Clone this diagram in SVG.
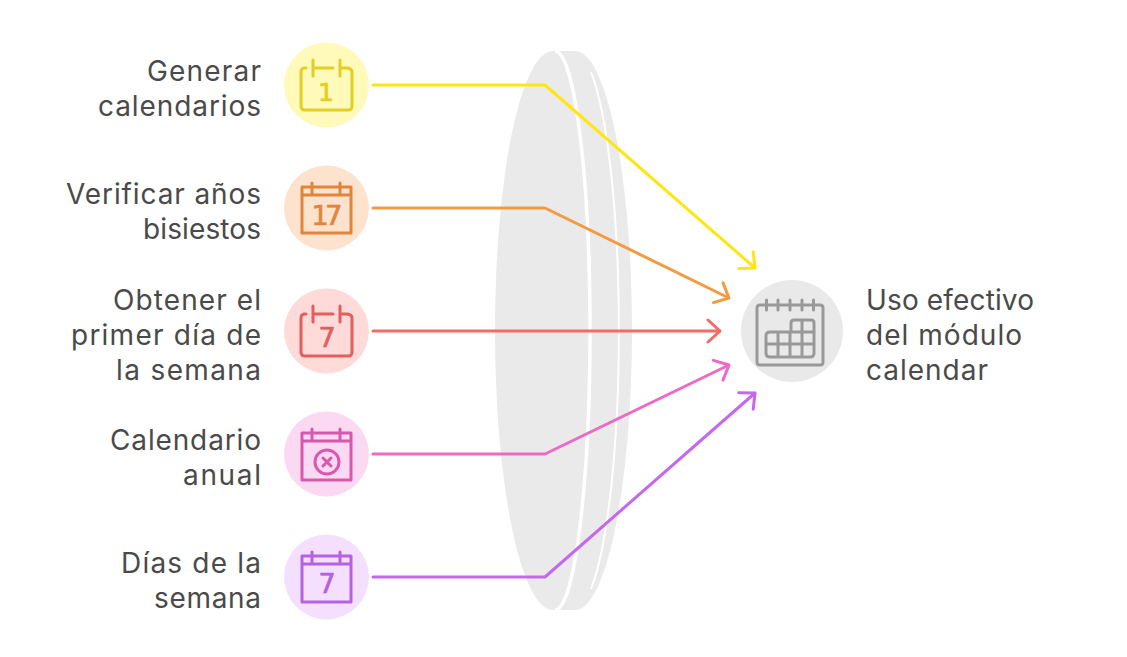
<svg xmlns="http://www.w3.org/2000/svg" width="1127" height="657" viewBox="0 0 1127 657">
<style>
.l{font-family:"Inter","Liberation Sans",sans-serif;font-size:28px;fill:#4a4a4a;text-anchor:end}
.r{font-family:"Inter","Liberation Sans",sans-serif;font-size:28px;fill:#4a4a4a;text-anchor:start}
.i{fill:none;stroke-width:3;stroke-linecap:round;stroke-linejoin:round}
.n{font-family:"DejaVu Sans","Liberation Sans",sans-serif;font-size:27px;stroke-width:.7;text-anchor:middle}
.c{fill:none;stroke-width:3;stroke-linejoin:round;stroke-linecap:round}
</style>
<defs>
<marker id="a1" viewBox="0 0 16 28" refX="15" refY="14" markerWidth="16" markerHeight="28" markerUnits="userSpaceOnUse" orient="auto"><path d="M3 3L15 14L3 25" fill="none" stroke="#ffe612" stroke-width="3" stroke-linecap="round" stroke-linejoin="round"/></marker>
<marker id="a2" viewBox="0 0 16 28" refX="15" refY="14" markerWidth="16" markerHeight="28" markerUnits="userSpaceOnUse" orient="auto"><path d="M3 3L15 14L3 25" fill="none" stroke="#f49b42" stroke-width="3" stroke-linecap="round" stroke-linejoin="round"/></marker>
<marker id="a3" viewBox="0 0 16 28" refX="15" refY="14" markerWidth="16" markerHeight="28" markerUnits="userSpaceOnUse" orient="auto"><path d="M3 3L15 14L3 25" fill="none" stroke="#f46a66" stroke-width="3" stroke-linecap="round" stroke-linejoin="round"/></marker>
<marker id="a4" viewBox="0 0 16 28" refX="15" refY="14" markerWidth="16" markerHeight="28" markerUnits="userSpaceOnUse" orient="auto"><path d="M3 3L15 14L3 25" fill="none" stroke="#ee68c6" stroke-width="3" stroke-linecap="round" stroke-linejoin="round"/></marker>
<marker id="a5" viewBox="0 0 16 28" refX="15" refY="14" markerWidth="16" markerHeight="28" markerUnits="userSpaceOnUse" orient="auto"><path d="M3 3L15 14L3 25" fill="none" stroke="#c468f0" stroke-width="3" stroke-linecap="round" stroke-linejoin="round"/></marker>
</defs>
<rect width="1127" height="657" fill="#fff"/>
<g id="lens">
<path d="M553 51A58 279.500 0 0 0 553 610L575 610A57 279.500 0 0 0 575 51Z" fill="#eaeaea"/>
<path d="M555 51A35 279.500 0 0 1 555 610" fill="none" stroke="#fff" stroke-width="3.500"/>
<path d="M591 72A45 279.500 0 0 1 591 589" fill="none" stroke="#fff" stroke-width="2"/>
</g>
<g id="connectors">
<path class="c" stroke="#ffe612" d="M373 85H545L755 268" marker-end="url(#a1)"/>
<path class="c" stroke="#f49b42" d="M373 208H545L729 298" marker-end="url(#a2)"/>
<path class="c" stroke="#f46a66" d="M373 331H720" marker-end="url(#a3)"/>
<path class="c" stroke="#ee68c6" d="M373 454H545L729 365" marker-end="url(#a4)"/>
<path class="c" stroke="#c468f0" d="M373 577H545L755 393" marker-end="url(#a5)"/>
</g>
<g id="node-generar">
<circle cx="326.500" cy="85" r="42.500" fill="#fff9ba"/>
<path class="i" stroke="#e3cf22" d="M313 60V76M340 60V76M313 68H333M340 68H346Q352 68 352 72V106Q352 110 348 110H305Q301 110 301 106V72Q301 68 305 68H306"/>
<text class="n" x="326" y="101" fill="#e3cf22" stroke="#e3cf22" style="font-size:25px">1</text>
<text class="l" x="261" y="81" textLength="114">Generar</text>
<text class="l" x="261" y="116" textLength="163">calendarios</text>
</g>
<g id="node-bisiestos">
<circle cx="326.500" cy="208" r="42.500" fill="#fde2cd"/>
<path class="i" stroke="#e0853a" d="M302 187H351V233H302ZM302 195H351M312 183V194M340 183V194"/>
<text class="n" x="327" y="225" fill="#e0853a" stroke="#e0853a" textLength="31">17</text>
<text class="l" x="261" y="204" textLength="195">Verificar años</text>
<text class="l" x="261" y="239" textLength="118">bisiestos</text>
</g>
<g id="node-primer">
<circle cx="326.500" cy="331" r="42.500" fill="#fedbd8"/>
<path class="i" stroke="#e2605c" d="M313 306V322M340 306V322M313 314H333M340 314H346Q352 314 352 318V352Q352 356 348 356H305Q301 356 301 352V318Q301 314 305 314H306"/>
<text class="n" x="327" y="347" fill="#e2605c" stroke="#e2605c">7</text>
<text class="l" x="261" y="310" textLength="148">Obtener el</text>
<text class="l" x="261" y="345" textLength="190">primer día de</text>
<text class="l" x="261" y="380" textLength="145">la semana</text>
</g>
<g id="node-anual">
<circle cx="326.500" cy="454" r="42.500" fill="#fcd9f3"/>
<path class="i" stroke="#d958ad" d="M302 433H351V480H302ZM302 441H351M312 429V440M340 429V440"/>
<circle class="i" stroke="#d958ad" cx="327" cy="462" r="12"/>
<path class="i" stroke="#d958ad" d="M323 458L331 466M331 458L323 466"/>
<text class="l" x="261" y="450" textLength="151">Calendario</text>
<text class="l" x="261" y="485" textLength="78">anual</text>
</g>
<g id="node-dias">
<circle cx="326.500" cy="577" r="42.500" fill="#f4e0fe"/>
<path class="i" stroke="#b660e2" d="M302 556H351V602H302ZM302 564H351M312 552V563M340 552V563"/>
<text class="n" x="327" y="593" fill="#b660e2" stroke="#b660e2">7</text>
<text class="l" x="261" y="573" textLength="140">Días de la</text>
<text class="l" x="261" y="608" textLength="107">semana</text>
</g>
<g id="node-uso">
<circle cx="792" cy="331" r="51" fill="#e9e9e9"/>
<path class="i" stroke="#999" d="M760 305H820Q823 305 823 308V362Q823 365 820 365H760Q757 365 757 362V308Q757 305 760 305ZM766.500 300V310M778 300V310M790 300V310M802 300V310M813.500 300V310"/>
<path class="i" stroke="#999" d="M770 332H791V323Q791 320 794 320H811Q814 320 814 323V353Q814 357 810 357H770Q766 357 766 353V336Q766 332 770 332ZM778 332V357M790 332V357M802 320V357M766 344H814M791 332H814"/>
<text class="r" x="866" y="310" textLength="168">Uso efectivo</text>
<text class="r" x="866" y="345" textLength="156">del módulo</text>
<text class="r" x="866" y="380" textLength="122">calendar</text>
</g>
</svg>
